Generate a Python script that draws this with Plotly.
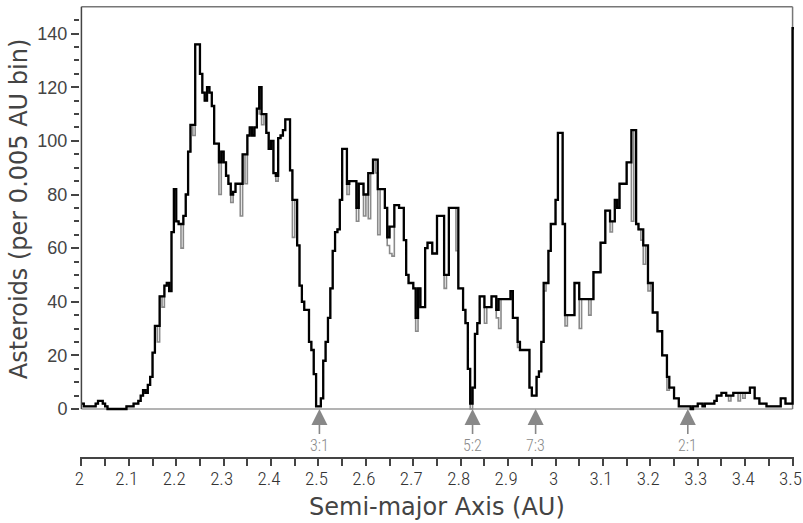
import plotly.graph_objects as go

# ---------------- data ----------------
BIN_START = 2.0      # AU
BIN_WIDTH = 0.005    # AU

# asteroid counts per 0.005 AU bin, 2.000 .. 3.500 AU (300 bins), black histogram
counts_2_0 = [2, 1, 1, 1, 1, 1, 2, 3, 3, 2, 1, 0, 0, 0, 0, 0, 0, 0, 0, 1]
counts_2_1 = [1, 1, 2, 2, 3, 5, 7, 6, 9, 12, 21, 31, 31, 42, 42, 46, 47, 44, 66, 82]
counts_2_2 = [70, 69, 69, 72, 80, 96, 106, 106, 136, 136, 125, 118, 115, 120, 118, 113, 99, 99, 92, 96]
counts_2_3 = [92, 87, 84, 80, 81, 84, 84, 84, 95, 95, 102, 105, 102, 105, 112, 120, 110, 110, 103, 97]
counts_2_4 = [100, 88, 87, 101, 102, 104, 108, 108, 89, 78, 78, 61, 46, 40, 37, 37, 25, 22, 13, 1]
counts_2_5 = [1, 4, 18, 25, 34, 45, 59, 66, 67, 78, 97, 97, 84, 85, 85, 85, 75, 84, 84, 80]
counts_2_6 = [80, 88, 88, 93, 93, 82, 82, 82, 75, 64, 68, 68, 76, 76, 75, 75, 63, 50, 47, 47]
counts_2_7 = [45, 34, 45, 38, 38, 60, 62, 62, 58, 58, 72, 72, 72, 50, 50, 75, 75, 75, 75, 45]
counts_2_8 = [45, 37, 32, 15, 2, 8, 28, 32, 42, 42, 38, 38, 38, 42, 42, 37, 41, 41, 41, 41]
counts_2_9 = [41, 44, 34, 34, 25, 22, 22, 22, 22, 8, 5, 5, 12, 14, 25, 47, 47, 59, 69, 69]
counts_3_0 = [78, 103, 103, 69, 35, 35, 35, 35, 47, 47, 41, 41, 41, 41, 41, 41, 51, 51, 51, 62]
counts_3_1 = [62, 74, 74, 70, 70, 78, 75, 84, 84, 84, 92, 92, 104, 104, 69, 67, 67, 61, 61, 47]
counts_3_2 = [47, 36, 36, 29, 29, 20, 20, 12, 8, 8, 4, 4, 1, 1, 1, 1, 1, 0, 1, 1]
counts_3_3 = [2, 2, 1, 2, 2, 2, 2, 3, 5, 5, 6, 6, 5, 5, 5, 6, 6, 6, 6, 6]
counts_3_4 = [6, 6, 8, 8, 4, 4, 2, 2, 2, 1, 1, 1, 1, 1, 1, 4, 4, 2, 2, 2]
overflow_count = 142   # bin beyond 3.5 AU (drawn as the edge step)

# second (gray) histogram: identical except at these bins
gray_bins = [32, 34, 39, 42, 47, 58, 63, 67, 69, 75, 76, 82, 89, 112, 116, 119, 121, 124,
             125, 129, 130, 131, 141, 153, 158, 164, 170, 175, 176, 184, 195, 204, 210,
             214, 223, 232, 236, 237, 239, 247, 273, 277, 279]
gray_vals = [25, 38, 70, 60, 102, 80, 77, 72, 84, 110, 106, 85, 64, 80, 70, 72, 71, 88,
             65, 61, 58, 57, 29, 45, 59, 0, 32, 34, 30, 23, 44, 31, 30,
             35, 66, 70, 63, 54, 44, 7, 3, 3, 4]

resonance_labels = ["3:1", "5:2", "7:3", "2:1"]
resonance_au = [2.502, 2.825, 2.958, 3.279]

x_tick_vals = [2.0, 2.1, 2.2, 2.3, 2.4, 2.5, 2.6, 2.7, 2.8, 2.9, 3.0, 3.1, 3.2, 3.3, 3.4, 3.5]
x_tick_text = ["2", "2.1", "2.2", "2.3", "2.4", "2.5", "2.6", "2.7", "2.8", "2.9",
               "3", "3.1", "3.2", "3.3", "3.4", "3.5"]
y_tick_vals = [0, 20, 40, 60, 80, 100, 120, 140]
y_minor_step = 5
y_top = 150

# ---------------- build ----------------
counts = (counts_2_0 + counts_2_1 + counts_2_2 + counts_2_3 + counts_2_4 + counts_2_5 +
          counts_2_6 + counts_2_7 + counts_2_8 + counts_2_9 + counts_3_0 + counts_3_1 +
          counts_3_2 + counts_3_3 + counts_3_4)
gray_counts = list(counts)
for b, v in zip(gray_bins, gray_vals):
    gray_counts[b] = v

n = len(counts)
edges = [BIN_START + BIN_WIDTH * i for i in range(n + 2)]
y_black = counts + [overflow_count, overflow_count]
y_gray = gray_counts + [overflow_count, overflow_count]
x_lo, x_hi = edges[0], edges[n]

x_minor = [(a + b) / 2 for a, b in zip(x_tick_vals[:-1], x_tick_vals[1:])]
y_minor = [v for v in range(y_minor_step, y_top, y_minor_step) if v not in y_tick_vals]

NARROW = "Roboto Condensed, Liberation Sans Narrow, Roboto, sans-serif"
TITLE_FONT = "DejaVu Sans, Verdana, sans-serif"

fig = go.Figure()
fig.add_trace(go.Scatter(x=edges, y=y_gray, mode="lines", line_shape="hv",
                         line=dict(color="#8a8a8a", width=1.6), hoverinfo="skip"))
fig.add_trace(go.Scatter(x=edges, y=y_black, mode="lines", line_shape="hv",
                         line=dict(color="#000000", width=2.3), hoverinfo="skip"))

shapes = [
    dict(type="line", xref="x", yref="y", x0=x_lo, x1=x_hi, y0=0, y1=0,
         line=dict(color="#9a9a9a", width=1.5), layer="below"),
    dict(type="line", xref="x", yref="y", x0=x_lo, x1=x_hi, y0=y_top, y1=y_top,
         line=dict(color="#777777", width=1.5), layer="below"),
    dict(type="line", xref="x", yref="y", x0=x_hi, x1=x_hi, y0=0, y1=y_top,
         line=dict(color="#777777", width=1.5), layer="below"),
    dict(type="line", xref="x", yref="y", x0=x_lo, x1=x_lo, y0=0, y1=y_top,
         line=dict(color="#444444", width=1.5), layer="above"),
]

annotations = []
for lab, au in zip(resonance_labels, resonance_au):
    annotations.append(dict(x=au, y=0, xref="x", yref="y", text=lab, showarrow=True,
                            arrowhead=2, arrowsize=2.0, arrowwidth=1.6, arrowcolor="#888888",
                            ax=0, ay=36, standoff=0,
                            font=dict(family=NARROW, size=16, color="#8a8a8a", weight=300)))
annotations.append(dict(text="Semi-major Axis (AU)", xref="paper", yref="paper",
                        x=0.5, y=-0.110, xanchor="center", yanchor="middle", showarrow=False,
                        font=dict(family=TITLE_FONT, size=24, color="#444444")))
annotations.append(dict(text="Asteroids (per 0.005 AU bin)", xref="paper", yref="paper",
                        x=-0.0863, y=0.5504, xanchor="center", yanchor="middle",
                        textangle=-90, showarrow=False,
                        font=dict(family=TITLE_FONT, size=24, color="#444444")))

fig.update_layout(
    template="none",
    width=803, height=523,
    margin=dict(l=80.08, r=8.97, t=6.2, b=65.7, pad=0),
    plot_bgcolor="white", paper_bgcolor="white",
    showlegend=False,
    shapes=shapes,
    annotations=annotations,
    xaxis=dict(range=[1.997, 3.503], showgrid=False, zeroline=False, automargin=False,
               showline=True, linecolor="#444444", linewidth=1.5,
               ticks="outside", ticklen=7, tickwidth=1.5, tickcolor="#444444",
               tickmode="array", tickvals=x_tick_vals, ticktext=x_tick_text,
               ticklabeloverflow="allow", ticklabelstandoff=-4, ticklabelshift=-2,
               tickfont=dict(family=NARROW, size=19, color="#333333", weight=300),
               minor=dict(tickmode="array", tickvals=x_minor, ticks="outside",
                          ticklen=7, tickwidth=1.5, tickcolor="#444444", showgrid=False)),
    yaxis=dict(range=[-17.9, 150.3], showgrid=False, zeroline=False, automargin=False,
               showline=False,
               ticks="outside", ticklen=8, tickwidth=1.5, tickcolor="#444444",
               tickmode="array", tickvals=y_tick_vals,
               tickfont=dict(family="Liberation Sans, Arial, sans-serif", size=18, color="#444444"),
               minor=dict(tickmode="array", tickvals=y_minor, ticks="outside",
                          ticklen=5, tickwidth=1.5, tickcolor="#444444", showgrid=False)),
)

fig.write_html("out.html", config={"displayModeBar": False},
               post_script="document.body.style.margin='0';document.body.style.overflow='hidden';")
